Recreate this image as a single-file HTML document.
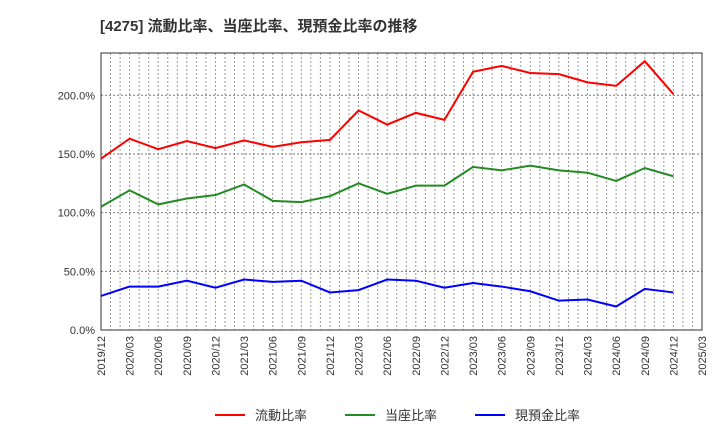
<!DOCTYPE html>
<html><head><meta charset="utf-8"><style>
body{margin:0;background:#fff;font-family:"Liberation Sans","Noto Sans CJK JP",sans-serif}
</style></head><body>
<svg width="720" height="440" id="c" xmlns="http://www.w3.org/2000/svg">
<text x="100" y="31" font-size="15" font-weight="bold" fill="#333" font-family="Liberation Sans, Noto Sans CJK JP, sans-serif">[4275]  流動比率、当座比率、現預金比率の推移</text>
</svg>
<script>
const categories=["2019/12","2020/03","2020/06","2020/09","2020/12","2021/03","2021/06","2021/09","2021/12","2022/03","2022/06","2022/09","2022/12","2023/03","2023/06","2023/09","2023/12","2024/03","2024/06","2024/09","2024/12"];
const tickLabels=["2019/12","2020/03","2020/06","2020/09","2020/12","2021/03","2021/06","2021/09","2021/12","2022/03","2022/06","2022/09","2022/12","2023/03","2023/06","2023/09","2023/12","2024/03","2024/06","2024/09","2024/12","2025/03"];
const currentRatio=[146,163,154,161,155,161.5,156,160,162,187,175,185,179,220,225,219,218,211,208,229,201];
const quickRatio=[105,119,107,112,115,124,110,109,114,125,116,123,123,139,136,140,136,134,127,138,131];
const cashRatio=[29,37,37,42,36,43,41,42,32,34,43,42,36,40,37,33,25,26,20,35,32];
const yTicks=[0,50,100,150,200];
const NS="http://www.w3.org/2000/svg",svg=document.getElementById('c');
const L=101,R=702,T=53,B=330,yMax=236;
const xs=i=>L+(R-L)*i/(tickLabels.length-1);
const ys=v=>B-(B-T)*v/yMax;
function mk(t,a,p){const e=document.createElementNS(NS,t);for(const k in a)e.setAttribute(k,a[k]);(p||svg).appendChild(e);return e;}
const grid=mk('g',{});


const months=(tickLabels.length-1)*3;
for(let m=0;m<=months;m++){const x=L+(R-L)*m/months;mk('line',{x1:x,x2:x,y1:T,y2:B,stroke:'#999','stroke-dasharray':'2,2','stroke-width':1},grid);}
yTicks.forEach(v=>{const y=ys(v);mk('line',{x1:L,x2:R,y1:y,y2:y,stroke:'#777','stroke-dasharray':'2,2'},grid);
const t=mk('text',{x:L-6,y:y+4,'text-anchor':'end','font-size':11,fill:'#333'});t.textContent=v.toFixed(1)+'%';

});
const frame=mk('rect',{x:L,y:T,width:R-L,height:B-T,fill:'none',stroke:'#333'});


tickLabels.forEach((s,i)=>{const x=xs(i);const t=mk('text',{transform:`translate(${x+4},${B+6}) rotate(-90)`,'text-anchor':'end','font-size':11,fill:'#333'});t.textContent=s;

});
function series(d,c,n){const p=mk('polyline',{points:d.map((v,i)=>xs(i)+','+ys(v)).join(' '),fill:'none',stroke:c,'stroke-width':2});

}
series(currentRatio,'#ff0000','current-ratio-line');
series(quickRatio,'#228b22','quick-ratio-line');
series(cashRatio,'#0000ff','cash-ratio-line');
[["流動比率","#ff0000",215,'legend-current-ratio'],["当座比率","#228b22",345,'legend-quick-ratio'],["現預金比率","#0000ff",475,'legend-cash-ratio']].forEach(([s,c,x,n])=>{
const g=mk('g',{});


mk('line',{x1:x,x2:x+30,y1:415,y2:415,stroke:c,'stroke-width':2},g);
const t=mk('text',{x:x+40,y:420,'font-size':13,fill:'#333'},g);t.textContent=s;});
</script>
</body></html>
